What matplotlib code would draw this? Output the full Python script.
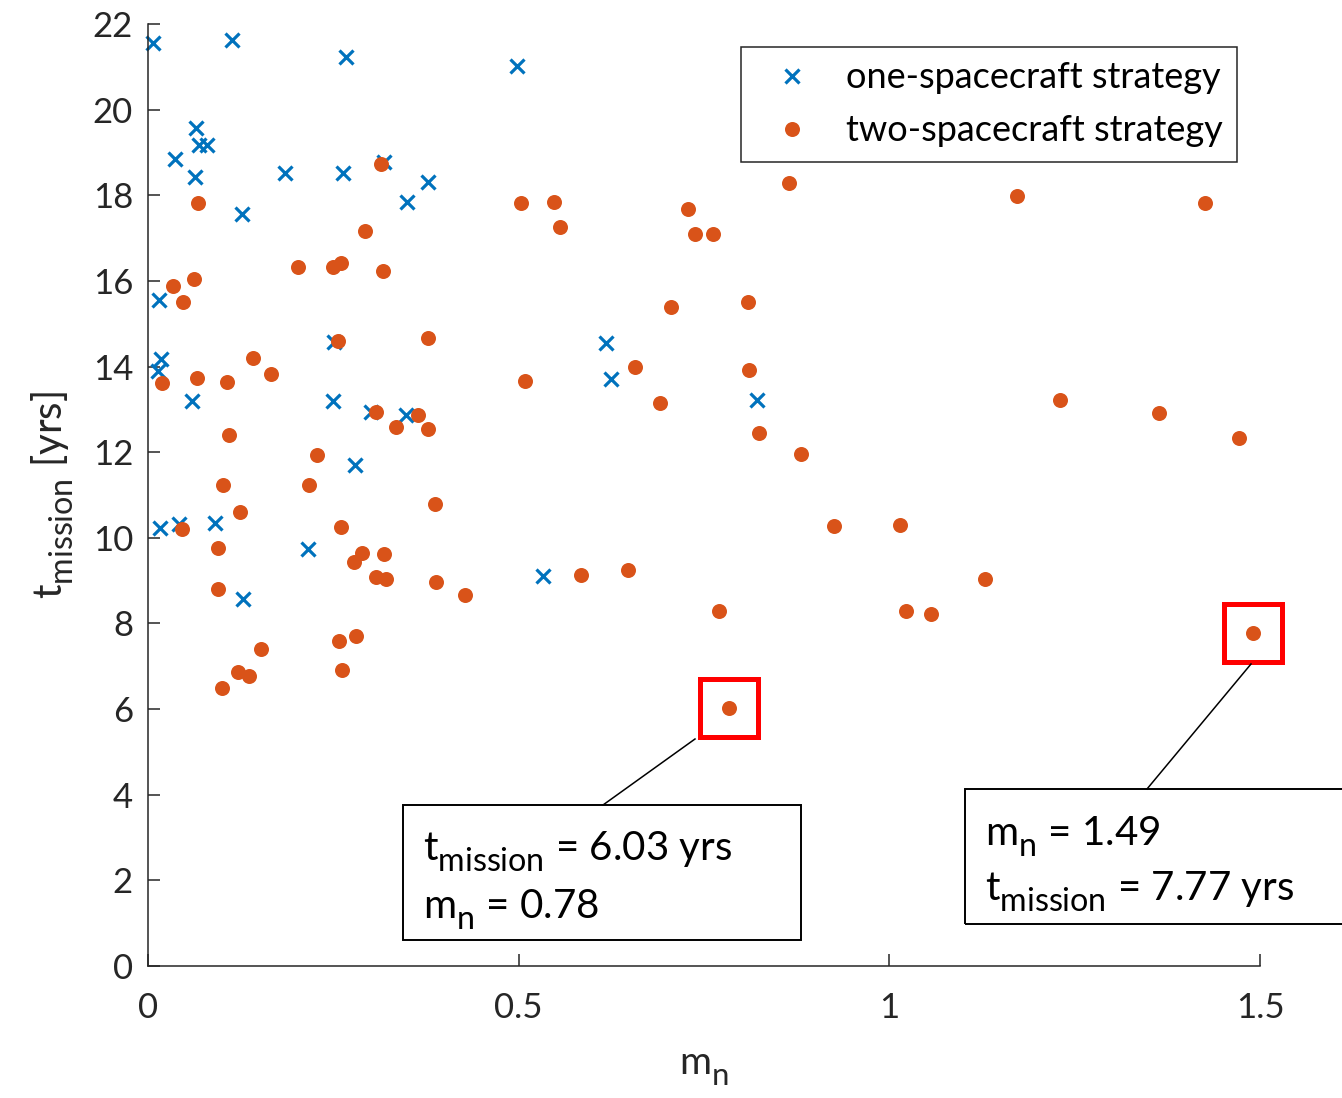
import matplotlib
matplotlib.use("Agg")
import matplotlib.pyplot as plt
from matplotlib.lines import Line2D
from matplotlib.patches import Rectangle

# larger, lower subscripts (closer to the MATLAB tex look)
try:
    import matplotlib._mathtext as _mt
    _mt.SHRINK_FACTOR = 0.8
    _mt.FontConstantsBase.sub1 = 0.55
    _mt.FontConstantsBase.sub2 = 0.6
except Exception:
    pass

plt.rcParams['font.family'] = ['Lato', 'DejaVu Sans']
plt.rcParams['mathtext.fontset'] = 'custom'
plt.rcParams['mathtext.rm'] = 'Lato'
plt.rcParams['mathtext.it'] = 'Lato'

# one-spacecraft strategy
one_mn = [0.007, 0.113, 0.267, 0.498, 0.065, 0.069, 0.080, 0.036, 0.063, 0.185,
          0.263, 0.318, 0.378, 0.349, 0.127, 0.015, 0.018, 0.013, 0.059, 0.251,
          0.250, 0.301, 0.348, 0.279, 0.016, 0.042, 0.090, 0.216, 0.128, 0.618,
          0.625, 0.822, 0.533]
one_t = [21.56, 21.63, 21.23, 21.02, 19.57, 19.17, 19.17, 18.85, 18.43, 18.52,
         18.52, 18.78, 18.31, 17.84, 17.56, 15.55, 14.18, 13.90, 13.19, 14.57,
         13.19, 12.94, 12.87, 11.70, 10.23, 10.32, 10.35, 9.74, 8.57, 14.55,
         13.71, 13.22, 9.11]

# two-spacecraft strategy
two_mn = [0.314, 0.067, 0.293, 0.202, 0.250, 0.260, 0.317, 0.062, 0.034, 0.047,
          0.256, 0.378, 0.142, 0.166, 0.066, 0.107, 0.019, 0.308, 0.364, 0.335,
          0.378, 0.109, 0.228, 0.101, 0.217, 0.387, 0.124, 0.046, 0.260, 0.094,
          0.289, 0.278, 0.318, 0.308, 0.321, 0.389, 0.094, 0.258, 0.281, 0.152,
          0.121, 0.136, 0.262, 0.100,
          0.503, 0.548, 0.556, 0.728, 0.738, 0.762, 0.865, 0.705, 0.809,
          0.508, 0.657, 0.690, 0.811, 0.824, 0.881, 0.925, 0.428, 0.584, 0.648,
          0.770, 0.784,
          1.172, 1.426, 1.230, 1.364, 1.472, 1.014, 1.129, 1.022, 1.056, 1.490]
two_t = [18.73, 17.82, 17.17, 16.32, 16.32, 16.42, 16.23, 16.04, 15.88, 15.51,
         14.60, 14.67, 14.20, 13.82, 13.73, 13.64, 13.61, 12.94, 12.87, 12.59,
         12.54, 12.40, 11.93, 11.23, 11.23, 10.79, 10.60, 10.21, 10.25, 9.76,
         9.64, 9.43, 9.62, 9.08, 9.04, 8.97, 8.80, 7.59, 7.71, 7.40,
         6.87, 6.77, 6.91, 6.49,
         17.82, 17.84, 17.26, 17.68, 17.09, 17.09, 18.29, 15.39, 15.51,
         13.66, 13.99, 13.15, 13.92, 12.45, 11.96, 10.28, 8.66, 9.13, 9.25,
         8.29, 6.03,
         17.98, 17.82, 13.22, 12.91, 12.33, 10.30, 9.04, 8.29, 8.22, 7.77]

# highlighted designs
hi_mn = [0.784, 1.49]
hi_t = [6.03, 7.77]

W, H = 1342, 1098
fig = plt.figure(figsize=(W / 100, H / 100), dpi=100)
ax = fig.add_axes([148 / W, 1 - 966 / H, 1112 / W, 942 / H])

ax.plot(one_mn, one_t, 'x', color='#0072BD', markersize=10, mew=2.3,
        label='one-spacecraft strategy', clip_on=False)
ax.plot(two_mn, two_t, 'o', color='#D95319', markersize=10.8, mew=0,
        label='two-spacecraft strategy', clip_on=False)
ax.plot(hi_mn, hi_t, 's', mfc='none', mec='#FF0000', markersize=41.8, mew=3.6,
        clip_on=False)

ax.set_xlim(0, 1.5)
ax.set_ylim(0, 22)
ax.set_xticks([0, 0.5, 1, 1.5])
ax.set_xticklabels(['0', '0.5', '1', '1.5'])
ax.set_yticks(range(0, 23, 2))
for s in ['top', 'right']:
    ax.spines[s].set_visible(False)
for s in ['left', 'bottom']:
    ax.spines[s].set_color('#262626')
    ax.spines[s].set_linewidth(1.1)
ax.tick_params(direction='in', length=8.6, width=1.1, colors='#262626',
               labelsize=25)
ax.tick_params(axis='x', pad=19)
ax.tick_params(axis='y', pad=10.8)

ax.set_xlabel(r'$\mathregular{m_n}$', fontsize=28, color='#262626', labelpad=19)
ax.set_ylabel(r'$\mathregular{t_{mission}}$ [yrs]', fontsize=29, color='#262626',
              labelpad=12)

leg = ax.legend(loc='upper right', bbox_to_anchor=(1237 / W, 1 - 47 / H),
                bbox_transform=fig.transFigure, fontsize=26, frameon=True,
                fancybox=False, framealpha=1, edgecolor='#262626',
                borderpad=0.4, handlelength=2.0, handletextpad=0.5,
                labelspacing=0.55, borderaxespad=0)
leg.get_frame().set_linewidth(1.1)


def fx(px):
    return px / W


def fy(py):
    return 1 - py / H


# callout boxes
fig.add_artist(Rectangle((fx(403), fy(940)), fx(801) - fx(403), fy(805) - fy(940),
                         transform=fig.transFigure, fill=False, ec='black', lw=1.4))
fig.add_artist(Rectangle((fx(965), fy(924)), fx(1360) - fx(965), fy(789) - fy(924),
                         transform=fig.transFigure, fill=False, ec='black', lw=1.4))
fig.add_artist(Line2D([fx(603), fx(695)], [fy(805), fy(739)],
                      transform=fig.transFigure, color='black', lw=1.1))
fig.add_artist(Line2D([fx(1147), fx(1251)], [fy(789), fy(664)],
                      transform=fig.transFigure, color='black', lw=1.1))

fs = 29
fig.text(fx(423), fy(860), r'$\mathregular{t_{mission}}$ = 6.03 yrs', fontsize=fs,
         va='baseline', ha='left')
fig.text(fx(423), fy(918), r'$\mathregular{m_n}$ = 0.78', fontsize=fs,
         va='baseline', ha='left')
fig.text(fx(985), fy(845), r'$\mathregular{m_n}$ = 1.49', fontsize=fs,
         va='baseline', ha='left')
fig.text(fx(985), fy(900), r'$\mathregular{t_{mission}}$ = 7.77 yrs', fontsize=fs,
         va='baseline', ha='left')

fig.savefig('out.png', dpi=100)
